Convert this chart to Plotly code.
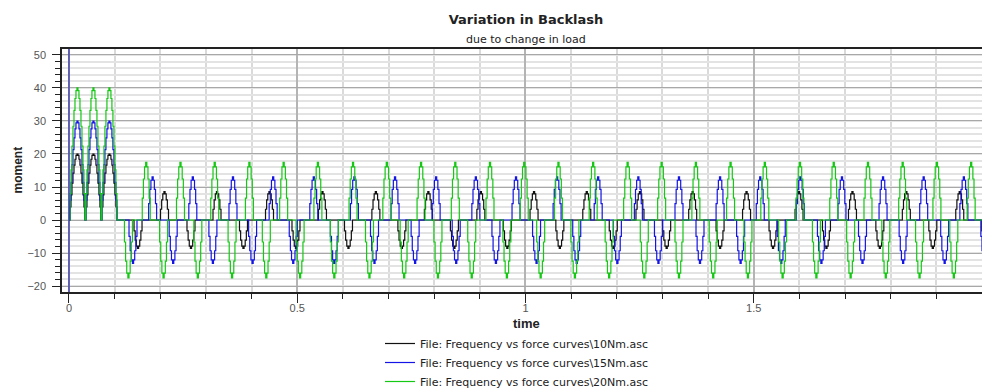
import plotly.graph_objects as go

# ---------------- data ----------------
SERIES_NAMES = [
    "File: Frequency vs force curves\\10Nm.asc",
    "File: Frequency vs force curves\\15Nm.asc",
    "File: Frequency vs force curves\\20Nm.asc",
]

# start-up bumps (time of peak, s) and their peak moments
START_PEAK_TIMES = [0.0175, 0.0525, 0.0875]
START_PEAKS_10 = [20, 20, 20]
START_PEAKS_15 = [30, 30, 30]
START_PEAKS_20 = [40, 40, 40]

# oscillation pulses: peak times (s) and peak magnitude
T10_POS = [0.208, 0.323, 0.438, 0.554, 0.671, 0.786, 0.901, 1.0175, 1.133, 1.2495,
           1.365, 1.483, 1.598, 1.715, 1.833, 1.950]
T10_NEG = [0.150, 0.266, 0.381, 0.496, 0.611, 0.728, 0.843, 0.959, 1.074, 1.191,
           1.308, 1.425, 1.541, 1.658, 1.775, 1.891, 2.007]
AMP10 = 8.6

T15_POS = [0.182, 0.270, 0.358, 0.446, 0.535, 0.624, 0.713, 0.803, 0.890, 0.978,
           1.068, 1.158, 1.246, 1.335, 1.425, 1.513, 1.601, 1.692, 1.782, 1.871, 1.959]
T15_NEG = [0.139, 0.227, 0.314, 0.401, 0.490, 0.580, 0.668, 0.757, 0.847, 0.934,
           1.023, 1.111, 1.200, 1.290, 1.381, 1.470, 1.559, 1.647, 1.737, 1.826,
           1.917, 2.005]
AMP15 = 13.1

T20_POS = [0.168, 0.243, 0.318, 0.394, 0.469, 0.544, 0.621, 0.695, 0.770, 0.845,
           0.921, 0.996, 1.071, 1.147, 1.2225, 1.297, 1.372, 1.448, 1.523, 1.600,
           1.674, 1.749, 1.825, 1.900, 1.975]
T20_NEG = [0.129, 0.206, 0.281, 0.356, 0.431, 0.505, 0.580, 0.657, 0.733, 0.807,
           0.881, 0.958, 1.032, 1.107, 1.182, 1.259, 1.335, 1.410, 1.486, 1.562,
           1.636, 1.711, 1.788, 1.862, 1.937]
AMP20 = 17.5

PULSE_PROFILE = [0.0, 0.38, 0.71, 0.92, 1.0, 0.92, 0.71, 0.38, 0.0]
START_PROFILE = [0.0, 0.2, 0.38, 0.56, 0.71, 0.83, 0.92, 0.98, 1.0,
                 0.98, 0.92, 0.83, 0.71, 0.56, 0.38, 0.2, 0.0]

X_TICKS = [0, 0.5, 1, 1.5, 2]
X_TICK_TEXT = ["0", "0.5", "1", "1.5", "2"]
Y_TICKS = [-20, -10, 0, 10, 20, 30, 40, 50]

# ---------------- build traces ----------------
START_WIDTH = 0.035
PULSE_WIDTH = 0.02


def build(start_peaks, pos_times, neg_times, amp):
    events = [(t, a, START_WIDTH, START_PROFILE) for t, a in zip(START_PEAK_TIMES, start_peaks)]
    events += [(t, amp, PULSE_WIDTH, PULSE_PROFILE) for t in pos_times]
    events += [(t, -amp, PULSE_WIDTH, PULSE_PROFILE) for t in neg_times]
    events.sort(key=lambda e: e[0])
    xs, ys = [0.0], [0.0]
    for c, a, w, prof in events:
        n = len(prof)
        for k, p in enumerate(prof):
            xs.append(c + (k / (n - 1) - 0.5) * w)
            ys.append(a * p)
    xs.append(2.05)
    ys.append(0.0)
    return xs, ys


COLORS = ["#111111", "#1414e6", "#14c814"]
data = [
    build(START_PEAKS_10, T10_POS, T10_NEG, AMP10),
    build(START_PEAKS_15, T15_POS, T15_NEG, AMP15),
    build(START_PEAKS_20, T20_POS, T20_NEG, AMP20),
]

FONT = "Liberation Sans, Arial, sans-serif"
WFONT = "DejaVu Sans, Verdana, sans-serif"

fig = go.Figure()
for (xs, ys), name, col in zip(data, SERIES_NAMES, COLORS):
    fig.add_trace(go.Scatter(x=xs, y=ys, mode="lines", name=name,
                             line=dict(color=col, width=1.2, shape="hv")))

W, H = 982, 389
L, R, T, B = 62, 0, 49, 97
PW, PH = W - L - R, H - T - B


def px(x):
    return (x - L) / PW


def py(y):
    return (H - B - y) / PH


fig.update_layout(
    width=W, height=H,
    margin=dict(l=L, r=R, t=T, b=B, pad=0, autoexpand=False),
    paper_bgcolor="white", plot_bgcolor="white",
    font=dict(family=FONT, size=11, color="#333333"),
    title=dict(text="<b>Variation in Backlash</b>", x=526 / W, xanchor="center",
               y=1 - 19 / H, yanchor="middle", yref="container",
               font=dict(family=WFONT, size=13, color="#222222")),
    showlegend=True,
    legend=dict(x=px(380), y=py(329), xanchor="left", yanchor="top",
                bgcolor="rgba(0,0,0,0)", font=dict(family=WFONT, size=11, color="#222222"),
                itemwidth=30, tracegroupgap=0),
    xaxis=dict(range=[-0.0153, 2.0], tickvals=X_TICKS, ticktext=X_TICK_TEXT,
               showgrid=True, gridcolor="#b4b4b4", gridwidth=1.5,
               ticks="outside", ticklen=9, tickcolor="#222222", tickwidth=1,
               showline=True, linecolor="#222222", linewidth=1.5, mirror=True,
               zeroline=False, automargin=False, ticklabelstandoff=-4,
               tickfont=dict(family=FONT, size=11, color="#555555"),
               minor=dict(dtick=0.1, tick0=0, showgrid=True, gridcolor="#dadada",
                          gridwidth=1.5, ticks="outside", ticklen=5,
                          tickcolor="#222222")),
    yaxis=dict(range=[-21.8, 51.8], tickvals=Y_TICKS,
               showgrid=True, gridcolor="#a8a8a8", gridwidth=1,
               ticks="outside", ticklen=8, tickcolor="#222222", tickwidth=1,
               showline=True, linecolor="#222222", linewidth=1.5, mirror=False,
               zeroline=False, automargin=False, ticklabelstandoff=4,
               tickfont=dict(family=FONT, size=11, color="#555555"),
               minor=dict(dtick=2, tick0=0, showgrid=True, gridcolor="#e3e3e3",
                          gridwidth=2, ticks="outside", ticklen=5,
                          tickcolor="#222222")),
)

# cursor line at time 0
fig.add_shape(type="line", xref="x", yref="paper", x0=0, x1=0, y0=0, y1=1,
              line=dict(color="#2a2ab4", width=1.2))

fig.add_annotation(text="due to change in load", xref="paper", yref="paper",
                   x=px(526), y=py(39.5), showarrow=False, xanchor="center",
                   yanchor="middle", font=dict(family=WFONT, size=11, color="#222222"))
fig.add_annotation(text="<b>moment</b>", xref="paper", yref="paper",
                   x=px(17.5), y=py(170), showarrow=False, textangle=-90,
                   xanchor="center", yanchor="middle",
                   font=dict(family=FONT, size=12, color="#222222"))
fig.add_annotation(text="<b>time</b>", xref="paper", yref="paper",
                   x=px(526.7), y=py(323.5), showarrow=False, xanchor="center",
                   yanchor="middle", font=dict(family=FONT, size=13, color="#222222"))

fig.write_html("out.html")
